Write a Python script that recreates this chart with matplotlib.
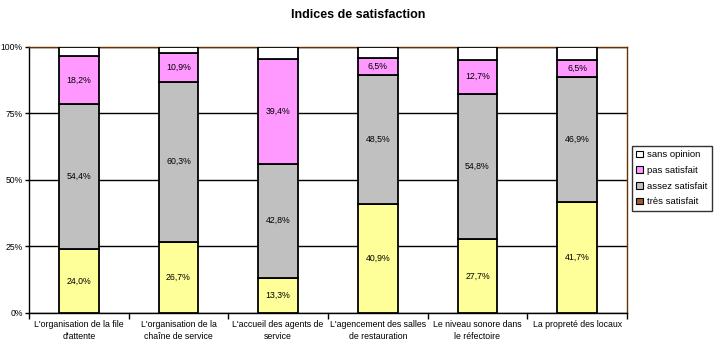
import numpy as np
import matplotlib
matplotlib.use("Agg")
import matplotlib.pyplot as plt
from matplotlib.patches import Patch

plt.rcParams['font.family'] = ['Liberation Sans', 'DejaVu Sans']

# Categories and values (% of answers)
categories = ["L'organisation de la file\nd'attente",
              "L'organisation de la\nchaîne de service",
              "L'accueil des agents de\nservice",
              "L'agencement des salles\nde restauration",
              "Le niveau sonore dans\nle réfectoire",
              "La propreté des locaux"]
tres_satisfait = [0.0, 0.0, 0.0, 0.0, 0.0, 0.0]
satisfait = [24.0, 26.7, 13.3, 40.9, 27.7, 41.7]
assez_satisfait = [54.4, 60.3, 42.8, 48.5, 54.8, 46.9]
pas_satisfait = [18.2, 10.9, 39.4, 6.5, 12.7, 6.5]
sans_opinion = [3.4, 2.1, 4.5, 4.1, 4.8, 4.9]
y_ticks = [0, 25, 50, 75, 100]
y_labels = ["0%", "25%", "50%", "75%", "100%"]

series = [
    ("très satisfait", tres_satisfait, "#9C5B2E", False),
    (None, satisfait, "#FFFF99", True),
    ("assez satisfait", assez_satisfait, "#C0C0C0", True),
    ("pas satisfait", pas_satisfait, "#FF99FF", True),
    ("sans opinion", sans_opinion, "#FFFFFF", False),
]

fig = plt.figure(figsize=(7.17, 3.45), dpi=100)
ax = fig.add_axes([0.0404, 0.0928, 0.834, 0.771])

x = np.arange(len(categories))
bottom = np.zeros(len(categories))
for name, vals, col, show in series:
    vals = np.array(vals)
    ax.bar(x, vals, bottom=bottom, width=0.4, color=col, edgecolor="black",
           linewidth=1.3, zorder=3)
    if show:
        for xi, b, v in zip(x, bottom, vals):
            ax.text(xi, b + v / 2, f"{v:.1f}%".replace(".", ","), ha="center",
                    va="center", fontsize=6.3, zorder=4)
    bottom += vals

ax.set_xlim(-0.5, len(categories) - 0.5)
ax.set_ylim(0, 100)
ax.set_yticks(y_ticks)
ax.set_yticklabels(y_labels, fontsize=6.2)
ax.yaxis.grid(True, color="black", linewidth=1, zorder=0)
ax.set_axisbelow(True)

# category ticks sit between the bars, labels centred under each bar
ax.set_xticks(np.arange(len(categories) + 1) - 0.5)
ax.set_xticklabels([])
ax.set_xticks(x, minor=True)
ax.set_xticklabels(categories, minor=True, fontsize=6.3, linespacing=1.45)
ax.tick_params(axis="x", which="minor", length=0, pad=5)
ax.tick_params(axis="x", which="major", length=4, width=1)
ax.tick_params(axis="y", length=3, width=1, pad=1.5)

for s in ["left", "bottom"]:
    ax.spines[s].set_color("black")
    ax.spines[s].set_linewidth(1)
for s in ["top", "right"]:
    ax.spines[s].set_color("#663300")
    ax.spines[s].set_linewidth(1)

handles = [Patch(facecolor=col, edgecolor="black", linewidth=0.8, label=name)
           for name, vals, col, show in reversed(series) if name]
leg = fig.legend(handles=handles, loc="upper left", bbox_to_anchor=(0.881, 0.578),
                 fontsize=6.8, frameon=True, fancybox=False, handlelength=0.7,
                 handleheight=0.7, handletextpad=0.4, borderpad=0.5,
                 labelspacing=0.7, borderaxespad=0)
leg.get_frame().set_edgecolor("black")
leg.get_frame().set_linewidth(1)

fig.suptitle("Indices de satisfaction", x=0.5, y=0.975, fontsize=9,
             fontweight="bold")

fig.savefig("out.png", dpi=100)
